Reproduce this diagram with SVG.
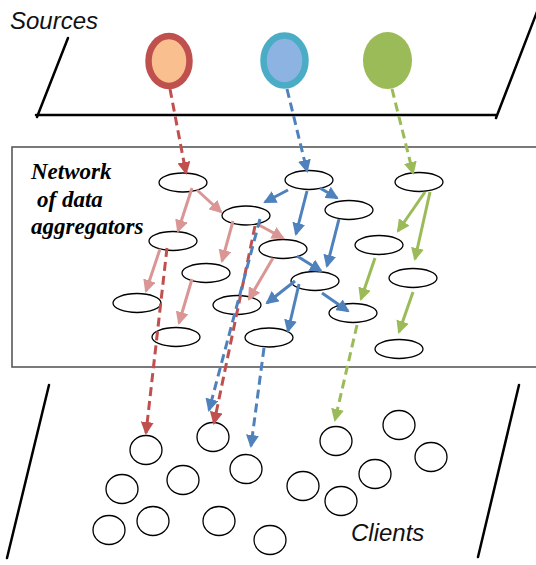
<svg xmlns="http://www.w3.org/2000/svg" width="536" height="565" viewBox="0 0 536 565">
  <style>
    .plane { stroke: #000; stroke-width: 2.5; fill: none; stroke-linecap: round; }
    .box { stroke: #595959; stroke-width: 1.6; fill: none; }
    .agg { fill: #fff; stroke: #000; stroke-width: 1.3; }
    .client { fill: #fff; stroke: #000; stroke-width: 1.3; }
    .label { font-family: "Liberation Sans", Arial, sans-serif; font-style: italic; font-size: 24px; fill: #111; }
    .title { font-family: "Liberation Serif", "Times New Roman", serif; font-style: italic; font-weight: bold; font-size: 23px; fill: #000; }
    .solid { stroke-width: 3; fill: none; }
    .dash { stroke-width: 3; fill: none; stroke-dasharray: 9 5; }
    .pink { stroke: #D99694; }
    .red { stroke: #C0504D; }
    .blue { stroke: #4F81BD; }
    .green { stroke: #9BBB59; }
  </style>
  <defs>
    <marker id="ah-pink" viewBox="0 0 13 13" refX="11" refY="6.5" markerWidth="13" markerHeight="13" markerUnits="userSpaceOnUse" orient="auto">
      <path d="M0,0 L13,6.5 L0,13 z" fill="#D99694"/>
    </marker>
    <marker id="ah-red" viewBox="0 0 13 13" refX="11" refY="6.5" markerWidth="13" markerHeight="13" markerUnits="userSpaceOnUse" orient="auto">
      <path d="M0,0 L13,6.5 L0,13 z" fill="#C0504D"/>
    </marker>
    <marker id="ah-blue" viewBox="0 0 13 13" refX="11" refY="6.5" markerWidth="13" markerHeight="13" markerUnits="userSpaceOnUse" orient="auto">
      <path d="M0,0 L13,6.5 L0,13 z" fill="#4F81BD"/>
    </marker>
    <marker id="ah-green" viewBox="0 0 13 13" refX="11" refY="6.5" markerWidth="13" markerHeight="13" markerUnits="userSpaceOnUse" orient="auto">
      <path d="M0,0 L13,6.5 L0,13 z" fill="#9BBB59"/>
    </marker>
  </defs>

  <!-- Sources plane -->
  <g id="sources-plane">
    <line class="plane" x1="68" y1="38" x2="37" y2="117"/>
    <line class="plane" x1="36" y1="115" x2="496" y2="115"/>
    <line class="plane" x1="496" y1="118" x2="540" y2="4"/>
    <text class="label" x="10" y="29">Sources</text>
  </g>

  <!-- Source nodes -->
  <g id="source-red">
    <ellipse cx="169" cy="61" rx="20.5" ry="25" fill="#F9BF8F" stroke="#C0504D" stroke-width="6.5"/>
  </g>
  <g id="source-blue">
    <ellipse cx="284.5" cy="60.5" rx="21" ry="25" fill="#8DB3E2" stroke="#4BACC6" stroke-width="6.5"/>
  </g>
  <g id="source-green">
    <ellipse cx="387.5" cy="60.5" rx="24.5" ry="28.5" fill="#9BBB59"/>
  </g>

  <!-- Aggregator network -->
  <g id="network">
    <rect class="box" x="12" y="147" width="540" height="220"/>
    <text class="title" x="31" y="179">Network</text>
    <text class="title" x="37" y="207">of data</text>
    <text class="title" x="31" y="234">aggregators</text>
  </g>

  <g id="agg-a1"><ellipse class="agg" cx="183" cy="182.5" rx="24" ry="9.5"/></g>
  <g id="agg-a2"><ellipse class="agg" cx="246" cy="215.5" rx="24" ry="9.5"/></g>
  <g id="agg-a3"><ellipse class="agg" cx="173" cy="241" rx="24" ry="9.5"/></g>
  <g id="agg-a4"><ellipse class="agg" cx="206" cy="273" rx="24" ry="9.5"/></g>
  <g id="agg-a5"><ellipse class="agg" cx="137" cy="303" rx="24" ry="9.5"/></g>
  <g id="agg-a6"><ellipse class="agg" cx="237" cy="305" rx="24" ry="9.5"/></g>
  <g id="agg-a7"><ellipse class="agg" cx="176" cy="337" rx="24" ry="9.5"/></g>
  <g id="agg-b1"><ellipse class="agg" cx="309" cy="180" rx="24" ry="9.5"/></g>
  <g id="agg-b2"><ellipse class="agg" cx="349" cy="210" rx="24" ry="9.5"/></g>
  <g id="agg-b3"><ellipse class="agg" cx="283" cy="249" rx="24" ry="9.5"/></g>
  <g id="agg-b4"><ellipse class="agg" cx="315" cy="281" rx="24" ry="9.5"/></g>
  <g id="agg-b5"><ellipse class="agg" cx="353" cy="313" rx="24" ry="9.5"/></g>
  <g id="agg-b6"><ellipse class="agg" cx="269" cy="337.5" rx="24" ry="9.5"/></g>
  <g id="agg-g1"><ellipse class="agg" cx="419" cy="182" rx="24" ry="9.5"/></g>
  <g id="agg-g2"><ellipse class="agg" cx="379" cy="245" rx="24" ry="9.5"/></g>
  <g id="agg-g3"><ellipse class="agg" cx="413" cy="278" rx="24" ry="9.5"/></g>
  <g id="agg-g4"><ellipse class="agg" cx="399" cy="349" rx="24" ry="9.5"/></g>

  <!-- Clients plane -->
  <g id="clients-plane">
    <line class="plane" x1="49" y1="385" x2="7" y2="558"/>
    <line class="plane" x1="519" y1="385" x2="478" y2="557"/>
    <text class="label" x="351" y="541">Clients</text>
  </g>

  <g id="client-1"><ellipse class="client" cx="146" cy="450" rx="16" ry="14.5"/></g>
  <g id="client-2"><ellipse class="client" cx="213" cy="437" rx="16" ry="14.5"/></g>
  <g id="client-3"><ellipse class="client" cx="246" cy="469" rx="16" ry="14.5"/></g>
  <g id="client-4"><ellipse class="client" cx="183" cy="480" rx="16" ry="14.5"/></g>
  <g id="client-5"><ellipse class="client" cx="122" cy="489" rx="16" ry="14.5"/></g>
  <g id="client-6"><ellipse class="client" cx="153" cy="521" rx="16" ry="14.5"/></g>
  <g id="client-7"><ellipse class="client" cx="109" cy="530" rx="16" ry="14.5"/></g>
  <g id="client-8"><ellipse class="client" cx="219" cy="521" rx="16" ry="14.5"/></g>
  <g id="client-9"><ellipse class="client" cx="270" cy="540" rx="16" ry="14.5"/></g>
  <g id="client-10"><ellipse class="client" cx="336" cy="441" rx="16" ry="14.5"/></g>
  <g id="client-11"><ellipse class="client" cx="399" cy="425" rx="16" ry="14.5"/></g>
  <g id="client-12"><ellipse class="client" cx="431" cy="457" rx="16" ry="14.5"/></g>
  <g id="client-13"><ellipse class="client" cx="375" cy="474" rx="16" ry="14.5"/></g>
  <g id="client-14"><ellipse class="client" cx="303" cy="486" rx="16" ry="14.5"/></g>
  <g id="client-15"><ellipse class="client" cx="341" cy="501" rx="16" ry="14.5"/></g>

  <!-- Connectors -->
  <g id="connectors">
    <!-- source feeds -->
    <line class="dash red" x1="170" y1="89" x2="186" y2="173" marker-end="url(#ah-red)"/>
    <line class="dash blue" x1="287" y1="89" x2="307" y2="171" marker-end="url(#ah-blue)"/>
    <line class="dash green" x1="392" y1="89" x2="413" y2="173" marker-end="url(#ah-green)"/>

    <!-- red tree -->
    <line class="solid pink" x1="192" y1="188" x2="178" y2="231" marker-end="url(#ah-pink)"/>
    <line class="solid pink" x1="197" y1="190" x2="221" y2="212" marker-end="url(#ah-pink)"/>
    <line class="solid pink" x1="233" y1="221" x2="222" y2="261" marker-end="url(#ah-pink)"/>
    <line class="solid pink" x1="259" y1="225" x2="283" y2="238" marker-end="url(#ah-pink)"/>
    <line class="solid pink" x1="160" y1="249" x2="146" y2="291" marker-end="url(#ah-pink)"/>
    <line class="solid pink" x1="192" y1="279" x2="179" y2="323" marker-end="url(#ah-pink)"/>
    <line class="solid pink" x1="273" y1="258" x2="249" y2="299" marker-end="url(#ah-pink)"/>

    <!-- blue tree -->
    <line class="solid blue" x1="288" y1="190" x2="265" y2="202" marker-end="url(#ah-blue)"/>
    <line class="solid blue" x1="307" y1="191" x2="296" y2="234" marker-end="url(#ah-blue)"/>
    <line class="solid blue" x1="320" y1="188" x2="337" y2="198" marker-end="url(#ah-blue)"/>
    <line class="solid blue" x1="339" y1="219" x2="327" y2="266" marker-end="url(#ah-blue)"/>
    <line class="solid blue" x1="297" y1="256" x2="321" y2="271" marker-end="url(#ah-blue)"/>
    <line class="solid blue" x1="295" y1="281" x2="267" y2="303" marker-end="url(#ah-blue)"/>
    <line class="solid blue" x1="299" y1="284" x2="288" y2="331" marker-end="url(#ah-blue)"/>
    <line class="solid blue" x1="322" y1="293" x2="348" y2="311" marker-end="url(#ah-blue)"/>

    <!-- green tree -->
    <line class="solid green" x1="425" y1="192" x2="398" y2="231" marker-end="url(#ah-green)"/>
    <line class="solid green" x1="430" y1="192" x2="415" y2="259" marker-end="url(#ah-green)"/>
    <line class="solid green" x1="375" y1="258" x2="361" y2="299" marker-end="url(#ah-green)"/>
    <line class="solid green" x1="413" y1="292" x2="399" y2="332" marker-end="url(#ah-green)"/>

    <!-- deliveries to clients -->
    <line class="dash red" x1="167" y1="248" x2="146" y2="433" marker-end="url(#ah-red)"/>
    <line class="dash red" x1="255" y1="226" x2="214" y2="423" marker-end="url(#ah-red)"/>
    <line class="dash blue" x1="260" y1="219" x2="209" y2="410" marker-end="url(#ah-blue)"/>
    <line class="dash blue" x1="264" y1="348" x2="251" y2="446" marker-end="url(#ah-blue)"/>
    <line class="dash green" x1="357" y1="325" x2="335" y2="420" marker-end="url(#ah-green)"/>
  </g>
</svg>
